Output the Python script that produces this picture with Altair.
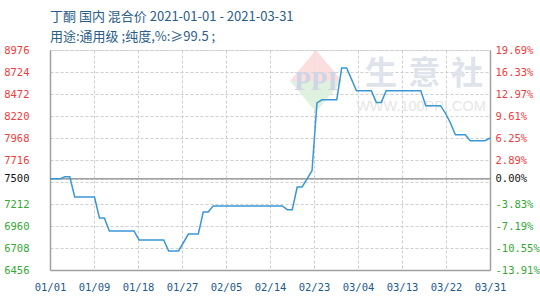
import altair as alt
import pandas as pd

# Daily price of butanone (MEK), domestic blended price, CNY/t
start_date = "2021-01-01"
end_date = "2021-03-31"
prices = [
    7500, 7500, 7500, 7523, 7523, 7292, 7292, 7292, 7292, 7292,
    7052, 7052, 6903, 6903, 6903, 6903, 6903, 6903, 6800, 6800,
    6800, 6800, 6800, 6800, 6674, 6674, 6674, 6771, 6868, 6868,
    6868, 7120, 7120, 7189, 7189, 7189, 7189, 7189, 7189, 7189,
    7189, 7189, 7189, 7189, 7189, 7189, 7189, 7189, 7147, 7147,
    7407, 7407, 7500, 7593, 8369, 8405, 8405, 8405, 8405, 8770,
    8770, 8640, 8510, 8510, 8510, 8510, 8376, 8376, 8510, 8510,
    8510, 8510, 8510, 8510, 8510, 8510, 8338, 8338, 8338, 8338,
    8250, 8140, 8006, 8006, 8006, 7937, 7937, 7937, 7937, 7968,
]

base_price = 7500
y_ticks = [6456, 6708, 6960, 7212, 7464, 7500, 7716, 7968, 8220, 8472, 8724, 8976]
left_labels = ["6456", "6708", "6960", "7212", "", "7500",
               "7716", "7968", "8220", "8472", "8724", "8976"]
right_labels = ["-13.91%", "-10.55%", "-7.19%", "-3.83%", "", "0.00%",
                "2.89%", "6.25%", "9.61%", "12.97%", "16.33%", "19.69%"]
x_labels = ["01/01", "01/09", "01/18", "01/27", "02/05", "02/14",
            "02/23", "03/04", "03/13", "03/22", "03/31"]

title_lines = ["丁酮 国内 混合价 2021-01-01 - 2021-03-31",
               "用途:通用级 ;纯度,%:≥99.5 ;"]

dates = pd.date_range(start_date, end_date, freq="D")
df = pd.DataFrame({"date": dates, "price": prices})
df["day"] = (df["date"] - df["date"].iloc[0]).dt.days
n_days = int(df["day"].iloc[-1])
x_ticks = [i * n_days / (len(x_labels) - 1) for i in range(len(x_labels))]

RED = "#f03c3c"
GREEN = "#34a834"
BLACK = "#111111"
AXIS_GRAY = "#a0a0a0"
GRID = "#cfcfcf"
MONO = "DejaVu Sans Mono"


def js_list(items):
    return "[" + ",".join(repr(i) if isinstance(i, str) else str(i) for i in items) + "]"


y_label_color = {
    "expr": f"datum.value > {base_price} ? '{RED}' : (datum.value < {base_price} ? '{GREEN}' : '{BLACK}')"
}
x_scale = alt.Scale(domain=[0, n_days], nice=False, zero=False)
y_scale = alt.Scale(domain=[y_ticks[0], y_ticks[-1]], nice=False, zero=False)

x_axis = alt.Axis(
    values=x_ticks,
    labelExpr=f"{js_list(x_labels)}[round(datum.value * {len(x_labels) - 1} / {n_days})]",
    title=None,
    grid=True,
    gridColor=GRID,
    gridDash=[3, 2],
    gridWidth=1,
    ticks=False,
    domainColor=AXIS_GRAY,
    domainWidth=1.5,
    labelFont=MONO,
    labelFontSize=10.5,
    labelColor="#1e5a8c",
    labelPadding=12,
    labelFlush=False,
    labelOverlap=False,
)

left_axis = alt.Axis(
    values=y_ticks,
    labelExpr=f"{js_list(left_labels)}[indexof({js_list(y_ticks)}, datum.value)]",
    title=None,
    grid=True,
    gridColor=GRID,
    gridDash=[3, 2],
    gridWidth=1,
    ticks=False,
    domainColor=AXIS_GRAY,
    domainWidth=1.5,
    labelFont=MONO,
    labelFontSize=10.5,
    labelColor=y_label_color,
    labelPadding=21,
    labelOverlap=False,
    labelFlush=False,
)

right_axis_def = alt.Axis(
    orient="right",
    values=y_ticks,
    labelExpr=f"{js_list(right_labels)}[indexof({js_list(y_ticks)}, datum.value)]",
    title=None,
    grid=False,
    ticks=False,
    domainColor=AXIS_GRAY,
    domainWidth=1.5,
    labelFont=MONO,
    labelFontSize=10.5,
    labelColor=y_label_color,
    labelPadding=5,
    labelOverlap=False,
    labelFlush=False,
)

price_line = alt.Chart(df).mark_line(color="#3a97d6", strokeWidth=1.5).encode(
    x=alt.X("day:Q", scale=x_scale, axis=x_axis),
    y=alt.Y("price:Q", scale=y_scale, axis=left_axis),
)

base_rule = alt.Chart(pd.DataFrame({"price": [base_price]})).mark_rule(
    color=AXIS_GRAY, strokeWidth=1.5
).encode(y=alt.Y("price:Q", scale=y_scale, axis=left_axis))

# faint site watermark, drawn beneath the price line
wm_font = "Noto Sans CJK SC"
wm_layers = []
for path, col in [("M0,-1L0.84,0L-0.84,0Z", "#fbdada"), ("M0,1L0.84,0L-0.84,0Z", "#dcf0dc")]:
    wm_layers.append(
        alt.Chart(pd.DataFrame({"k": [0]})).mark_point(
            shape=path, size=62 * 62, filled=True, color=col, opacity=0.9, strokeWidth=0,
        ).encode(x=alt.value(316 - 50), y=alt.value(81 - 50))
    )
wm_layers.append(
    alt.Chart(pd.DataFrame({"t": ["PPI"]})).mark_text(
        font="Liberation Serif", fontSize=27, fontWeight="bold", color="#cfd5e4",
        align="center", baseline="middle",
    ).encode(x=alt.value(316 - 50), y=alt.value(82 - 50), text="t:N")
)
for ch, px in zip(["生", "意", "社"], [381, 424.5, 467]):
    wm_layers.append(
        alt.Chart(pd.DataFrame({"t": [ch]})).mark_text(
            font=wm_font, fontSize=32, fontWeight="bold", color="#dfe3ec",
            align="center", baseline="middle",
        ).encode(x=alt.value(px - 50), y=alt.value(74 - 50), text="t:N")
    )
wm_layers.append(
    alt.Chart(pd.DataFrame({"t": ["WWW.100PPI.COM"]})).mark_text(
        font="Liberation Sans", fontSize=14.5, color="#e6e6e6",
        align="center", baseline="middle",
    ).encode(x=alt.value(421 - 50), y=alt.value(107 - 50), text="t:N")
)

right_axis = alt.Chart(df).mark_line(opacity=0).encode(
    x=alt.X("day:Q", scale=x_scale, axis=x_axis),
    y=alt.Y("price:Q", scale=y_scale, axis=right_axis_def),
)

left = alt.layer(*wm_layers, base_rule, price_line)

chart = (
    alt.layer(left, right_axis)
    .resolve_scale(y="independent")
    .properties(
        width=440,
        height=220,
        autosize=alt.AutoSizeParams(type="none"),
        padding={"left": 50, "top": 50, "right": 50, "bottom": 30},
        title=alt.TitleParams(
            text=title_lines,
            anchor="start",
            frame="group",
            font="Noto Sans CJK SC",
            fontSize=13,
            fontWeight="normal",
            color="#2a5d88",
            lineHeight=20,
            offset=1,
        ),
    )
    .configure_view(stroke=None)
    .configure(background="white")
)

chart.save("out.html", embed_options={"renderer": "svg", "actions": False})
